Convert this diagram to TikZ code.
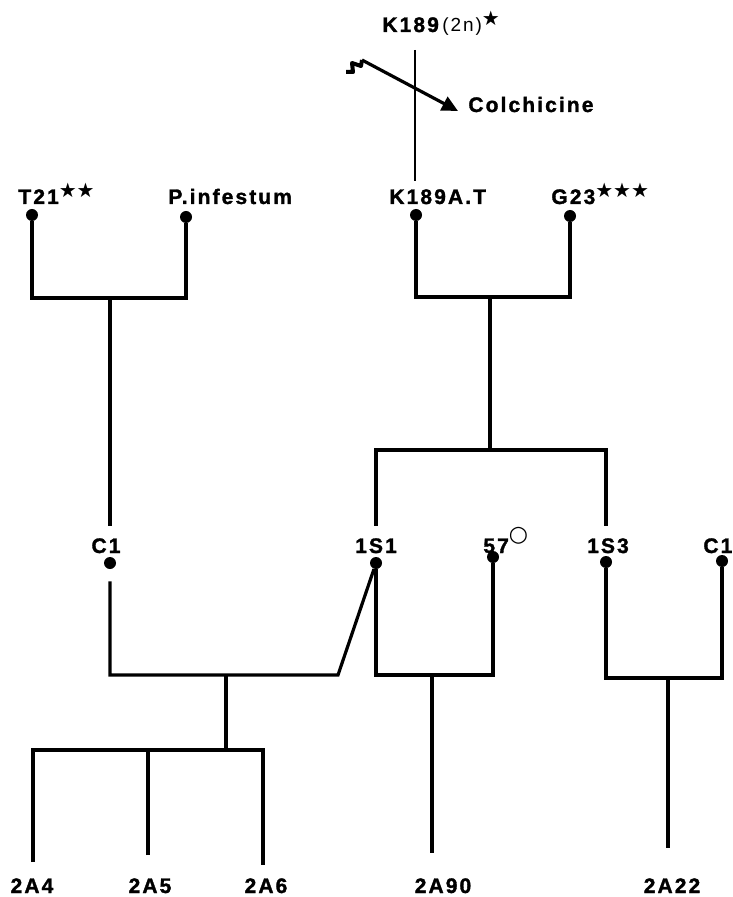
\documentclass[tikz,border=0pt]{standalone}
\usepackage{fontspec}
\usetikzlibrary{arrows.meta}
\newfontfamily\labfont{Liberation Sans}[LetterSpace=10, BoldFeatures={FakeBold=1.5}]
\newfontfamily\symfont{DejaVu Sans}
\newcommand{\stars}[1]{\raisebox{3pt}{\symfont\fontsize{10}{10}\selectfont #1}}
\newcommand{\ring}{\raisebox{6pt}{\symfont\fontsize{11}{11}\selectfont ○}}

\begin{document}
\begin{tikzpicture}[x=0.5pt,y=-0.5pt,
    lbl/.style={font=\labfont\bfseries\fontsize{10.5}{12}\selectfont, inner sep=0pt},
    pdot/.style={circle, fill, inner sep=0pt, minimum size=6pt},
    tie/.style={line width=1.6pt}]
  \useasboundingbox (0,0) rectangle (732,897);

  % K189 and the colchicine treatment
  \node[lbl, anchor=base west] (kTopL) at (382,32) {K189\,{\mdseries\fontsize{9.5}{10}\selectfont(2n)}\stars{★}};
  \coordinate (kTop) at (415,50);
  \node[lbl, anchor=base west] (kAL) at (389,204) {K189A.T};
  \node[pdot] (kA) at (416,215) {};
  \draw[line width=1.3pt, shorten >=4pt] (kTop) -- (kTop |- kAL.north);
  \node[lbl, anchor=base west] (colch) at (468,112) {Colchicine};
  \coordinate (zz) at (362,60);
  \coordinate (tip) at (458,111);
  \draw[line width=2pt, line join=round] (346,72) -- (353,72) -- (352,63) -- (361,66) -- (zz);
  \draw[tie, -{Triangle[length=8pt,width=7.5pt]}] (zz) -- (tip);

  % first parents
  \node[lbl, anchor=base west] (t21L) at (18,204) {T21\stars{★★}};
  \node[pdot] (t21) at (32,215) {};
  \node[lbl, anchor=base west] (pinfL) at (168,204) {P.infestum};
  \node[pdot] (pinf) at (186,217) {};
  \node[lbl, anchor=base west] (g23L) at (551,204) {G23\stars{★★★}};
  \node[pdot] (g23) at (570,216) {};

  \coordinate (jA) at (110,298);
  \coordinate (jB) at (490,297);
  \coordinate (jG) at (490,450);
  \draw[tie] (t21) |- (jA) -| (pinf);
  \draw[tie] (kA) |- (jB) -| (g23);
  \draw[tie] (jB) -- (jG);

  % second parents
  \node[lbl, anchor=base] (c1L) at (106,553) {C1};
  \node[pdot] (c1) at (110,563) {};
  \node[lbl, anchor=base] (s1L) at (376,553) {1S1};
  \node[pdot] (s1) at (376,563) {};
  \node[lbl, anchor=base west] (f7L) at (483,553) {57\ring};
  \node[pdot] (f7) at (493,557) {};
  \node[lbl, anchor=base] (s3L) at (608,553) {1S3};
  \node[pdot] (s3) at (606,562) {};
  \node[lbl, anchor=base west] (c1rL) at (703,553) {C1};
  \node[pdot] (c1r) at (722,561) {};

  \draw[tie, shorten >=6pt] (jA) -- (jA |- c1L.north);
  \draw[tie, shorten <=6pt, shorten >=6pt] (s1 |- s1L.north) |- (jG) -| (s3 |- s3L.north);

  % progenies
  \coordinate (jC) at (226,675);
  \coordinate (kink) at (338,675);
  \coordinate (jD) at (226,750);
  \coordinate (jE) at (432,675);
  \coordinate (jF) at (668,678);
  \draw[tie, shorten <=6pt] (c1) |- (kink) -- (s1);
  \draw[tie] (s1) |- (jE) -| (f7);
  \draw[tie] (s3) |- (jF) -| (c1r);
  \draw[tie] (jC) -- (jD);

  \coordinate (e4) at (33,862);
  \coordinate (e5) at (148,855);
  \coordinate (e6) at (263,865);
  \coordinate (e90) at (432,853);
  \coordinate (e22) at (668,848);
  \draw[tie] (e4) |- (jD) -| (e6);
  \draw[tie] (e5) -- (e5 |- jD);
  \draw[tie] (jE) -- (e90);
  \draw[tie] (jF) -- (e22);

  \node[lbl, anchor=base] (a4) at (32,893) {2A4};
  \node[lbl, anchor=base] (a5) at (150,893) {2A5};
  \node[lbl, anchor=base] (a6) at (266,893) {2A6};
  \node[lbl, anchor=base] (a90) at (443,893) {2A90};
  \node[lbl, anchor=base] (a22) at (672,893) {2A22};
\end{tikzpicture}
\end{document}
